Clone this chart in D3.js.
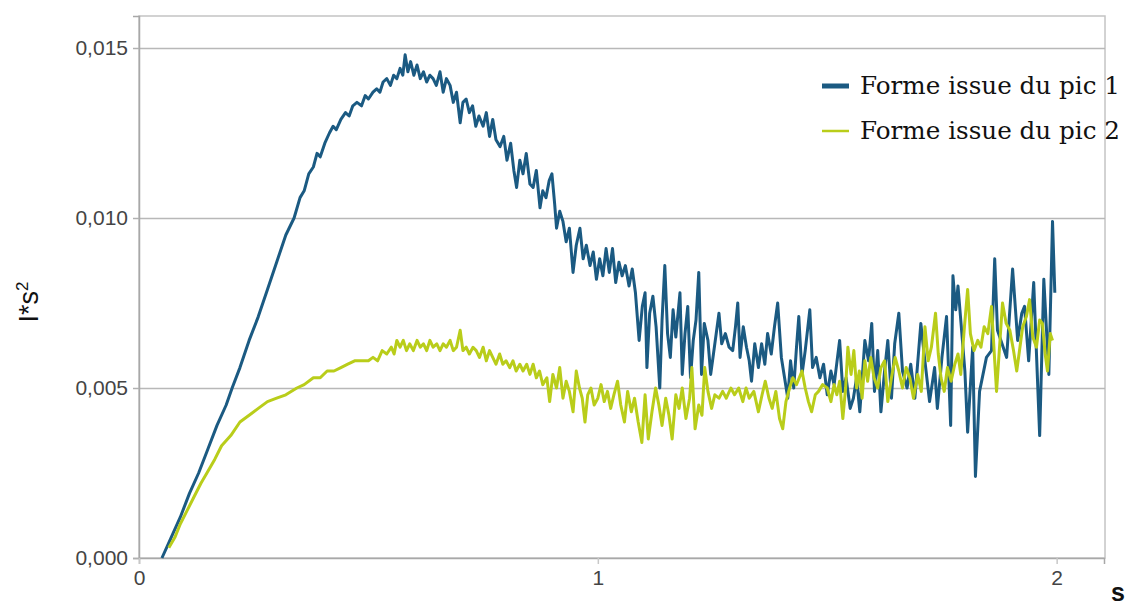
<!DOCTYPE html>
<html><head><meta charset="utf-8">
<script src="https://cdn.jsdelivr.net/npm/d3@7"></script>
<style>
html,body{margin:0;padding:0;background:#fff;}
svg{display:block;}
</style></head>
<body>
<svg id="chart" width="1130" height="605"></svg>
<script>
// ---- data ----
const seriesNames = ["Forme issue du pic 1", "Forme issue du pic 2"];
const yTickValues = [0, 0.005, 0.010, 0.015];
const xTickValues = [0, 1, 2];
const xTitle = "s";

const pic1S = [0.050,0.070,0.090,0.110,0.130,0.150,0.170,0.190,0.203,0.220,0.240,0.260,0.280,0.300,0.320,0.338,0.351,0.360,0.370,0.380,0.388,0.395,0.405,0.415,0.423,0.430,0.440,0.450,0.458,0.466,0.475,0.485,0.493,0.500,0.510,0.518,0.525,0.532,0.540,0.548,0.555,0.562,0.569,0.575,0.580,0.586,0.592,0.599,0.606,0.613,0.620,0.627,0.634,0.641,0.648,0.656,0.663,0.670,0.678,0.685,0.692,0.700,0.706,0.713,0.720,0.727,0.734,0.741,0.750,0.757,0.764,0.771,0.778,0.787,0.795,0.802,0.810,0.817,0.823,0.830,0.837,0.844,0.852,0.859,0.866,0.874,0.880,0.887,0.894,0.900,0.906,0.910,0.917,0.924,0.931,0.938,0.946,0.953,0.961,0.968,0.975,0.983,0.990,0.997,1.004,1.011,1.018,1.025,1.032,1.039,1.046,1.053,1.060,1.068,1.075,1.082,1.090,1.097,1.103,1.107,1.113,1.120,1.127,1.135,1.140,1.146,1.152,1.158,1.164,1.170,1.179,1.184,1.190,1.196,1.202,1.208,1.214,1.220,1.226,1.232,1.240,1.246,1.252,1.258,1.264,1.270,1.278,1.286,1.294,1.300,1.305,1.310,1.317,1.324,1.330,1.335,1.342,1.350,1.357,1.364,1.370,1.378,1.385,1.392,1.400,1.407,1.414,1.420,1.427,1.433,1.438,1.445,1.452,1.462,1.468,1.476,1.484,1.492,1.500,1.508,1.515,1.527,1.534,1.541,1.550,1.557,1.564,1.571,1.582,1.590,1.597,1.603,1.610,1.617,1.625,1.632,1.640,1.647,1.656,1.664,1.674,1.682,1.691,1.704,1.712,1.723,1.734,1.740,1.750,1.760,1.769,1.774,1.780,1.785,1.800,1.806,1.817,1.823,1.832,1.847,1.858,1.865,1.871,1.891,1.904,1.915,1.924,1.930,1.939,1.950,1.963,1.972,1.983,1.991,1.996];
const pic1V = [0.0000,0.0006,0.0012,0.0019,0.0025,0.0032,0.0039,0.0045,0.0050,0.0056,0.0064,0.0071,0.0079,0.0087,0.0095,0.0100,0.0106,0.0108,0.0113,0.0115,0.0119,0.0118,0.0122,0.0125,0.0127,0.0126,0.0129,0.0131,0.0130,0.0133,0.0134,0.0133,0.0136,0.0135,0.0137,0.0138,0.0137,0.0140,0.0141,0.0139,0.0142,0.0141,0.0144,0.0142,0.0148,0.0143,0.0146,0.0142,0.0145,0.0141,0.0143,0.0140,0.0142,0.0141,0.0139,0.0143,0.0137,0.0141,0.0139,0.0134,0.0137,0.0128,0.0134,0.0135,0.0131,0.0133,0.0127,0.0130,0.0127,0.0131,0.0124,0.0129,0.0123,0.0121,0.0124,0.0117,0.0122,0.0114,0.0109,0.0117,0.0113,0.0119,0.0110,0.0109,0.0114,0.0103,0.0108,0.0106,0.0111,0.0113,0.0104,0.0097,0.0102,0.0099,0.0093,0.0097,0.0084,0.0092,0.0097,0.0088,0.0092,0.0086,0.0090,0.0082,0.0088,0.0083,0.0091,0.0084,0.0091,0.0081,0.0087,0.0083,0.0086,0.0080,0.0085,0.0078,0.0064,0.0074,0.0078,0.0056,0.0072,0.0077,0.0068,0.0050,0.0070,0.0086,0.0066,0.0059,0.0073,0.0065,0.0078,0.0054,0.0066,0.0074,0.0053,0.0064,0.0070,0.0084,0.0054,0.0069,0.0064,0.0054,0.0060,0.0066,0.0072,0.0063,0.0066,0.0062,0.0061,0.0068,0.0075,0.0059,0.0068,0.0062,0.0058,0.0052,0.0063,0.0056,0.0063,0.0057,0.0066,0.0060,0.0068,0.0075,0.0059,0.0053,0.0047,0.0058,0.0050,0.0062,0.0071,0.0054,0.0061,0.0073,0.0056,0.0059,0.0053,0.0057,0.0048,0.0055,0.0051,0.0064,0.0049,0.0053,0.0044,0.0047,0.0053,0.0043,0.0064,0.0058,0.0069,0.0049,0.0061,0.0043,0.0055,0.0064,0.0047,0.0063,0.0072,0.0055,0.0050,0.0057,0.0047,0.0069,0.0059,0.0046,0.0056,0.0044,0.0059,0.0071,0.0039,0.0083,0.0073,0.0080,0.0055,0.0037,0.0062,0.0024,0.0049,0.0059,0.0061,0.0088,0.0067,0.0059,0.0085,0.0064,0.0072,0.0074,0.0058,0.0081,0.0036,0.0082,0.0054,0.0099,0.0078];

const pic2S = [0.065,0.078,0.090,0.105,0.120,0.135,0.148,0.165,0.180,0.200,0.220,0.240,0.260,0.280,0.300,0.320,0.344,0.360,0.380,0.395,0.410,0.425,0.440,0.455,0.470,0.485,0.500,0.510,0.520,0.530,0.540,0.550,0.556,0.562,0.569,0.576,0.583,0.590,0.598,0.606,0.613,0.620,0.627,0.634,0.641,0.649,0.656,0.663,0.670,0.678,0.685,0.692,0.700,0.706,0.713,0.720,0.728,0.735,0.742,0.750,0.757,0.764,0.771,0.778,0.786,0.793,0.800,0.808,0.815,0.822,0.830,0.837,0.845,0.852,0.859,0.866,0.873,0.880,0.889,0.895,0.902,0.910,0.917,0.924,0.931,0.938,0.946,0.953,0.960,0.966,0.972,0.978,0.985,0.992,1.000,1.007,1.014,1.021,1.028,1.035,1.043,1.050,1.058,1.065,1.073,1.080,1.088,1.096,1.103,1.110,1.118,1.126,1.133,1.140,1.148,1.155,1.162,1.170,1.177,1.184,1.192,1.200,1.205,1.212,1.220,1.227,1.233,1.240,1.248,1.255,1.264,1.272,1.280,1.290,1.298,1.307,1.316,1.323,1.330,1.340,1.350,1.358,1.365,1.373,1.380,1.388,1.396,1.403,1.410,1.418,1.425,1.433,1.445,1.452,1.459,1.466,1.474,1.481,1.490,1.500,1.508,1.515,1.521,1.527,1.534,1.540,1.545,1.552,1.558,1.564,1.570,1.576,1.582,1.588,1.595,1.602,1.610,1.617,1.625,1.632,1.640,1.648,1.656,1.664,1.672,1.680,1.688,1.697,1.705,1.713,1.720,1.727,1.736,1.742,1.748,1.755,1.762,1.770,1.778,1.785,1.791,1.799,1.806,1.812,1.820,1.828,1.835,1.842,1.850,1.858,1.865,1.869,1.876,1.882,1.890,1.898,1.906,1.913,1.920,1.926,1.934,1.941,1.948,1.956,1.963,1.969,1.975,1.980,1.986,1.991];
const pic2V = [0.0003,0.0006,0.0010,0.0014,0.0018,0.0022,0.0025,0.0029,0.0033,0.0036,0.0040,0.0042,0.0044,0.0046,0.0047,0.0048,0.0050,0.0051,0.0053,0.0053,0.0055,0.0055,0.0056,0.0057,0.0058,0.0058,0.0058,0.0059,0.0058,0.0061,0.0060,0.0062,0.0060,0.0064,0.0062,0.0064,0.0061,0.0063,0.0061,0.0064,0.0062,0.0063,0.0061,0.0064,0.0062,0.0063,0.0061,0.0063,0.0062,0.0064,0.0061,0.0062,0.0067,0.0061,0.0062,0.0060,0.0062,0.0061,0.0059,0.0062,0.0058,0.0061,0.0059,0.0057,0.0060,0.0057,0.0058,0.0056,0.0058,0.0055,0.0057,0.0055,0.0057,0.0054,0.0057,0.0053,0.0055,0.0051,0.0053,0.0046,0.0054,0.0050,0.0056,0.0047,0.0052,0.0049,0.0043,0.0055,0.0050,0.0047,0.0040,0.0048,0.0050,0.0045,0.0047,0.0051,0.0046,0.0049,0.0044,0.0048,0.0052,0.0045,0.0040,0.0049,0.0043,0.0047,0.0040,0.0034,0.0048,0.0035,0.0043,0.0050,0.0045,0.0039,0.0047,0.0042,0.0035,0.0048,0.0044,0.0050,0.0041,0.0047,0.0056,0.0038,0.0045,0.0042,0.0056,0.0049,0.0044,0.0048,0.0047,0.0049,0.0047,0.0050,0.0048,0.0050,0.0046,0.0050,0.0047,0.0049,0.0043,0.0048,0.0052,0.0047,0.0044,0.0049,0.0041,0.0038,0.0046,0.0050,0.0053,0.0051,0.0055,0.0050,0.0046,0.0043,0.0048,0.0049,0.0051,0.0050,0.0046,0.0051,0.0048,0.0052,0.0041,0.0050,0.0062,0.0054,0.0061,0.0050,0.0055,0.0047,0.0058,0.0052,0.0059,0.0053,0.0050,0.0056,0.0058,0.0046,0.0053,0.0059,0.0055,0.0050,0.0056,0.0053,0.0047,0.0054,0.0049,0.0068,0.0058,0.0062,0.0072,0.0060,0.0053,0.0049,0.0056,0.0052,0.0057,0.0060,0.0054,0.0068,0.0079,0.0066,0.0061,0.0064,0.0062,0.0068,0.0066,0.0074,0.0058,0.0049,0.0063,0.0075,0.0069,0.0067,0.0061,0.0055,0.0062,0.0068,0.0071,0.0076,0.0065,0.0062,0.0070,0.0069,0.0060,0.0055,0.0066,0.0064];

// ---- layout / style ----
const W = 1130, H = 605;
const plot = {left: 139, top: 16, right: 1105, bottom: 558};
const colors = ["#1b5a82", "#b9cd1a"];

const svg = d3.select("#chart");
const x = d3.scaleLinear().domain([0, 2.1032]).range([plot.left, plot.right - 1]);
const y = d3.scaleLinear().domain([0, 0.015 + 32/34000]).range([plot.bottom, plot.top]);

// frame
svg.append("rect").attr("x", plot.left).attr("y", plot.top)
  .attr("width", plot.right - plot.left).attr("height", plot.bottom - plot.top)
  .attr("fill", "none").attr("stroke", "#c4c4c4").attr("stroke-width", 1.5);

// gridlines
const grid = svg.append("g").attr("transform", `translate(${plot.left},0)`)
  .call(d3.axisLeft(y).tickValues(yTickValues.slice(1)).tickSize(-(plot.right - plot.left)).tickFormat(""));
grid.select(".domain").remove();
grid.selectAll("line").attr("stroke", "#b8b8b8").attr("stroke-width", 1.5);

// y axis
const fmt = v => d3.format(".3f")(v).replace(".", ",");
const yAx = svg.append("g").attr("transform", `translate(${plot.left},0)`)
  .call(d3.axisLeft(y).tickValues(yTickValues).tickSize(6).tickPadding(5).tickFormat(fmt));
yAx.select(".domain").attr("stroke", "#a8a8a8").attr("stroke-width", 1.5);
yAx.selectAll("line").attr("stroke", "#b0b0b0").attr("stroke-width", 1.5);
yAx.selectAll("text").attr("font-family", "'Liberation Sans', Arial, sans-serif")
  .attr("font-size", 21).attr("fill", "#444");

// x axis
const xAx = svg.append("g").attr("transform", `translate(0,${plot.bottom})`)
  .call(d3.axisBottom(x).tickValues(xTickValues).tickSize(6).tickPadding(6).tickFormat(d3.format("d")));
xAx.select(".domain").attr("stroke", "#a8a8a8").attr("stroke-width", 1.5);
xAx.selectAll("line").attr("stroke", "#c8c8c8").attr("stroke-width", 1.5);
xAx.selectAll("text").attr("font-family", "'Liberation Sans', Arial, sans-serif")
  .attr("font-size", 21).attr("fill", "#444");

// series
const line = d3.line().x(d => x(d[0])).y(d => y(d[1]));
const s1 = pic1S.map((s, i) => [s, pic1V[i]]);
const s2 = pic2S.map((s, i) => [s, pic2V[i]]);
svg.append("path").datum(s1).attr("d", line).attr("fill", "none")
  .attr("stroke", colors[0]).attr("stroke-width", 3).attr("stroke-linejoin", "round");
svg.append("path").datum(s2).attr("d", line).attr("fill", "none")
  .attr("stroke", colors[1]).attr("stroke-width", 3).attr("stroke-linejoin", "round");

// axis titles
svg.append("text").attr("transform", "translate(38,302) rotate(-90)")
  .attr("text-anchor", "middle").attr("font-family", "'Liberation Sans', Arial, sans-serif")
  .attr("font-size", 27).attr("fill", "#111")
  .html('I*s<tspan dy="-10" font-size="17">2</tspan>');
svg.append("text").attr("x", 1118).attr("y", 601).attr("text-anchor", "middle")
  .attr("font-family", "'Liberation Sans', Arial, sans-serif").attr("font-size", 25)
  .attr("font-weight", "bold").attr("fill", "#111").text(xTitle);

// legend
const legY = [86, 131];
const legW = [5, 2.5];
seriesNames.forEach((name, i) => {
  svg.append("line").attr("x1", 822).attr("x2", 849).attr("y1", legY[i]).attr("y2", legY[i])
    .attr("stroke", colors[i]).attr("stroke-width", legW[i]);
  svg.append("text").attr("x", 860).attr("y", legY[i] + 8)
    .attr("font-family", "'DejaVu Serif', serif").attr("font-size", 24)
    .attr("textLength", 260).attr("lengthAdjust", "spacingAndGlyphs")
    .attr("fill", "#111").text(name);
});
</script>
</body></html>
